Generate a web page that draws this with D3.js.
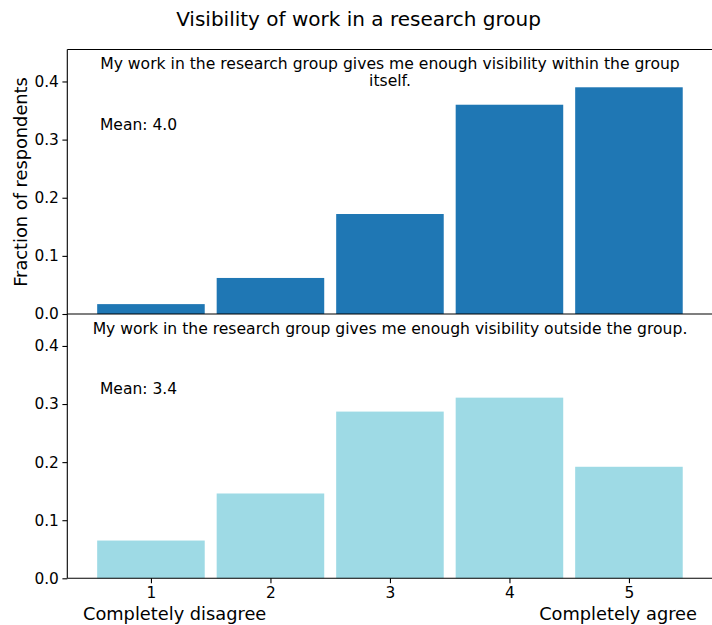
<!DOCTYPE html>
<html>
<head>
<meta charset="utf-8">
<script src="https://cdn.jsdelivr.net/npm/d3@7"></script>
<style>
  body { margin: 0; background: #fff; }
  text { font-family: "DejaVu Sans", sans-serif; fill: #000; }
</style>
</head>
<body>
<div id="chart"></div>
<script>
const w = 712;
const h = 625;

// Likert answers 1..5
const answers = [1, 2, 3, 4, 5];
const withinValues = [0.017, 0.062, 0.172, 0.360, 0.390];
const outsideValues = [0.065, 0.146, 0.287, 0.311, 0.192];
const questions = [
    "My work in the research group gives me enough visibility within the group itself.",
    "My work in the research group gives me enough visibility outside the group."
];
const means = ["Mean: 4.0", "Mean: 3.4"];
const yTicks = [0, 0.1, 0.2, 0.3, 0.4];

const svg = d3.select("#chart")
    .append("svg")
    .attr("width", w)
    .attr("height", h);

const x = d3.scaleLinear().domain([0.3, 5.7]).range([67.3, 712.6]);

const panels = [
    { values: withinValues, color: "#1f77b4", top: 49.5, bottom: 314, question: questions[0], mean: means[0] },
    { values: outsideValues, color: "#9edae5", top: 314, bottom: 578.3, question: questions[1], mean: means[1] }
];

// Title
svg.append("text")
    .attr("x", 358.5)
    .attr("y", 26)
    .attr("text-anchor", "middle")
    .attr("font-size", "20px")
    .text("Visibility of work in a research group");

panels.forEach((p, i) => {
    const y = d3.scaleLinear().domain([0, 0.455]).range([p.bottom, p.top]);
    const g = svg.append("g");

    g.selectAll("rect")
        .data(p.values)
        .enter()
        .append("rect")
        .attr("x", (d, j) => x(answers[j] - 0.45))
        .attr("width", x(1.45) - x(0.55))
        .attr("y", d => y(d))
        .attr("height", d => y(0) - y(d))
        .attr("fill", p.color);

    // y axis
    const yAxis = g.append("g")
        .attr("transform", "translate(67.3,0)")
        .call(d3.axisLeft(y).tickValues(yTicks).tickFormat(d3.format(".1f")).tickSize(4.9).tickPadding(3.5));
    yAxis.select(".domain").remove();
    yAxis.selectAll("line").attr("stroke", "#000").attr("stroke-width", 1.1);
    yAxis.selectAll("text").attr("font-size", "15.4px").attr("font-family", "DejaVu Sans");

    // spines
    g.append("line")
        .attr("x1", 67.3).attr("x2", 67.3)
        .attr("y1", y.range()[1]).attr("y2", y.range()[0])
        .attr("stroke", "#000").attr("stroke-width", 1.1);
    g.append("line")
        .attr("x1", 67.3).attr("x2", w)
        .attr("y1", y.range()[0]).attr("y2", y.range()[0])
        .attr("stroke", "#000").attr("stroke-width", 1.1);
    if (i === 0) {
        g.append("line")
            .attr("x1", 67.3).attr("x2", w)
            .attr("y1", p.top).attr("y2", p.top)
            .attr("stroke", "#000").attr("stroke-width", 1.1);
    }

    // question text, wrapped
    const q = g.append("text")
        .attr("text-anchor", "middle")
        .attr("font-size", "15.6px")
        .attr("y", i === 0 ? 68.5 : 334);
    const words = p.question.split(" ");
    let line = [];
    let tspan = q.append("tspan").attr("x", 390);
    words.forEach(word => {
        line.push(word);
        tspan.text(line.join(" "));
        if (tspan.node().getComputedTextLength() > 605 && line.length > 1) {
            line.pop();
            tspan.text(line.join(" "));
            line = [word];
            tspan = q.append("tspan").attr("x", 390).attr("dy", 17).text(word);
        }
    });

    g.append("text")
        .attr("x", 100)
        .attr("y", i === 0 ? 129.5 : 393.5)
        .attr("font-size", "15.5px")
        .text(p.mean);
});

// bottom x axis
const yb = 578.3;
const xAxis = svg.append("g")
    .attr("transform", "translate(0," + yb + ")")
    .call(d3.axisBottom(x).tickValues(answers).tickFormat(d3.format("d")).tickSize(4.9).tickPadding(3.5));
xAxis.select(".domain").remove();
xAxis.selectAll("line").attr("stroke", "#000").attr("stroke-width", 1.1);
xAxis.selectAll("text").attr("font-size", "15.4px").attr("font-family", "DejaVu Sans");

svg.append("text")
    .attr("x", 83)
    .attr("y", 619.5)
    .attr("font-size", "17.8px")
    .text("Completely disagree");
svg.append("text")
    .attr("x", 697)
    .attr("y", 619.5)
    .attr("text-anchor", "end")
    .attr("font-size", "17.8px")
    .text("Completely agree");

// y label
svg.append("text")
    .attr("transform", "translate(27,182) rotate(-90)")
    .attr("text-anchor", "middle")
    .attr("font-size", "17.8px")
    .text("Fraction of respondents");
</script>
</body>
</html>
